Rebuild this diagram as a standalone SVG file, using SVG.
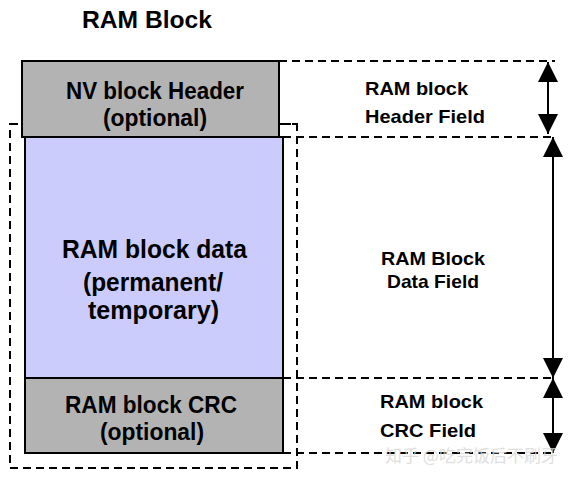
<svg xmlns="http://www.w3.org/2000/svg" width="576" height="479" viewBox="0 0 576 479">
<defs>
<style>
.t{font-family:"Liberation Sans",Arial,sans-serif;font-weight:bold;fill:#000}
.big{font-size:23px;text-anchor:middle}
.huge{font-size:25px;text-anchor:middle}
.lab{font-size:18.5px}
.box{stroke:#000;stroke-width:2}
.dash{fill:none;stroke:#000;stroke-width:2;stroke-dasharray:8,5}
.arr{stroke:#000;stroke-width:2;fill:none}
</style>
<marker id="ah" viewBox="0 0 20 20" refX="20" refY="10" markerWidth="20" markerHeight="20" markerUnits="userSpaceOnUse" orient="auto-start-reverse">
<path d="M0,0 L20,10 L0,20 Z" fill="#000"/>
</marker>
</defs>
<rect width="576" height="479" fill="#fff"/>
<text class="t" x="82" y="28" font-size="23" textLength="130" lengthAdjust="spacingAndGlyphs">RAM Block</text>

<g id="ram-block-outline">
<rect class="dash" x="10" y="124" width="287" height="344"/>
</g>

<g id="nv-header">
<rect class="box" x="22" y="61" width="257" height="76" fill="#b3b3b3"/>
<text class="t big" x="155" y="99" textLength="178" lengthAdjust="spacingAndGlyphs">NV block Header</text>
<text class="t big" x="155" y="126" textLength="104" lengthAdjust="spacingAndGlyphs">(optional)</text>
</g>

<g id="ram-data">
<rect class="box" x="25" y="137" width="258" height="241" fill="#ccccfc"/>
<text class="t huge" x="154.5" y="258" textLength="185" lengthAdjust="spacingAndGlyphs">RAM block data</text>
<text class="t huge" x="153" y="291" textLength="140" lengthAdjust="spacingAndGlyphs">(permanent/</text>
<text class="t huge" x="153.5" y="319" textLength="131" lengthAdjust="spacingAndGlyphs">temporary)</text>
</g>

<g id="ram-crc">
<rect class="box" x="25" y="378" width="258" height="75" fill="#b3b3b3"/>
<text class="t big" x="151" y="413" textLength="172" lengthAdjust="spacingAndGlyphs">RAM block CRC</text>
<text class="t big" x="152" y="440" textLength="104" lengthAdjust="spacingAndGlyphs">(optional)</text>
</g>

<g id="header-field">
<text class="t lab" x="365" y="95" textLength="103" lengthAdjust="spacingAndGlyphs">RAM block</text>
<text class="t lab" x="365" y="123" textLength="120" lengthAdjust="spacingAndGlyphs">Header Field</text>
</g>
<g id="data-field">
<text class="t lab" x="381" y="265" textLength="104" lengthAdjust="spacingAndGlyphs">RAM Block</text>
<text class="t lab" x="387" y="288" textLength="92" lengthAdjust="spacingAndGlyphs">Data Field</text>
</g>
<g id="crc-field">
<text class="t lab" x="380" y="408" textLength="103" lengthAdjust="spacingAndGlyphs">RAM block</text>
<text class="t lab" x="380" y="437" textLength="96" lengthAdjust="spacingAndGlyphs">CRC Field</text>
</g>

<g id="connectors">
<line class="dash" x1="279" y1="61" x2="555" y2="61"/>
<line class="dash" x1="283" y1="137" x2="555" y2="137"/>
<line class="dash" x1="279" y1="124" x2="297" y2="124"/>
<line class="dash" x1="283" y1="378" x2="555" y2="378"/>
<line class="dash" x1="283" y1="453" x2="555" y2="453"/>
<line class="arr" x1="548" y1="62" x2="548" y2="134" marker-start="url(#ah)" marker-end="url(#ah)"/>
<line class="arr" x1="553" y1="137" x2="553" y2="378" marker-start="url(#ah)" marker-end="url(#ah)"/>
<line class="arr" x1="553" y1="378" x2="553" y2="453" marker-start="url(#ah)" marker-end="url(#ah)"/>
</g>
<text x="385" y="462" font-family="'Noto Sans CJK SC',sans-serif" font-size="17" fill="#d8d8d8" opacity="0.8">知乎 @吃完饭后不刷牙</text>
</svg>
